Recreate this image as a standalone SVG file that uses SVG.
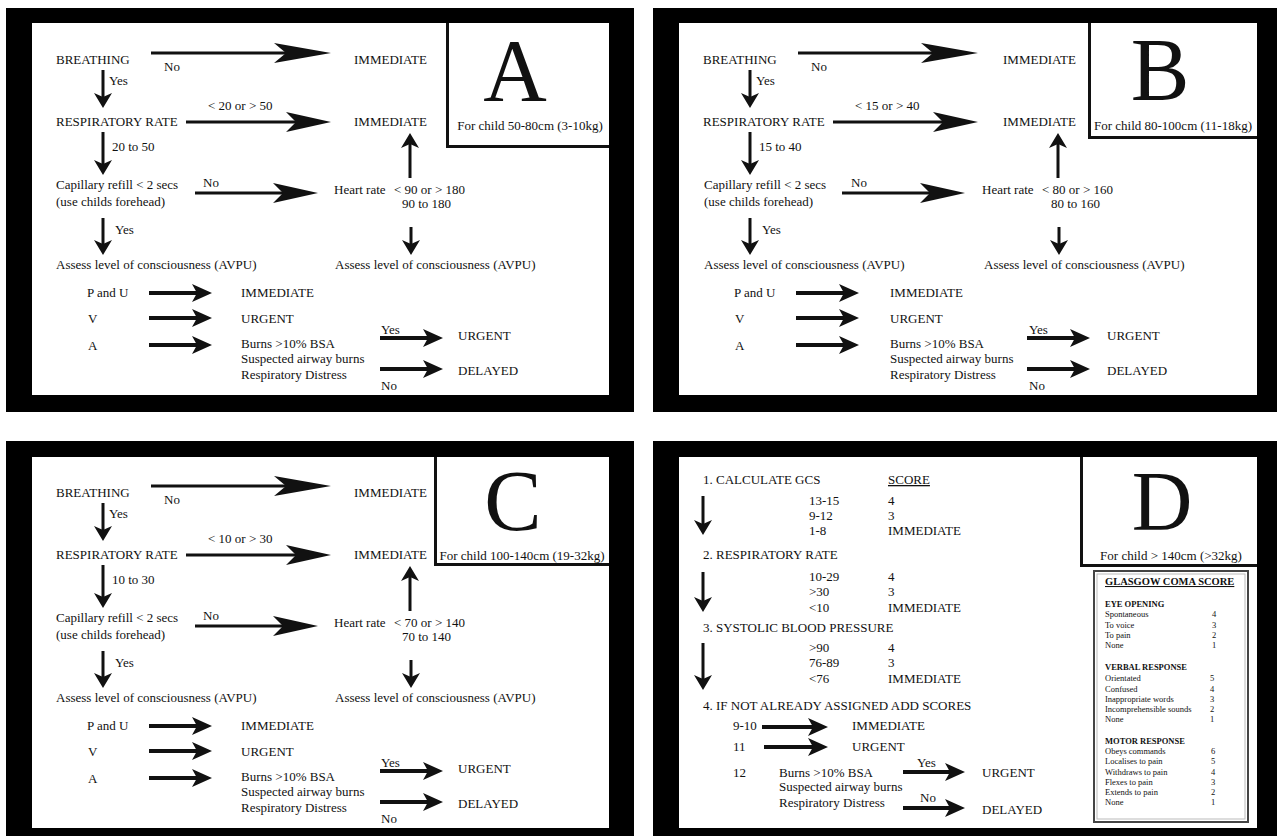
<svg xmlns="http://www.w3.org/2000/svg" width="1277" height="836" viewBox="0 0 1277 836">
<style>
text{font-family:"Liberation Serif","Times New Roman",serif;font-size:13px;fill:#111}
.big{font-size:88px;text-anchor:middle}
.mid{text-anchor:middle}
.u{text-decoration:underline}
.g{font-size:8.5px}
.gb{font-size:8.5px;font-weight:bold}
.gh{font-size:10.5px;font-weight:bold;text-decoration:underline}
.c3{stroke:#111;stroke-width:3;fill:none}
.c4{stroke:#111;stroke-width:4;fill:none}
.box{stroke:#111;stroke-width:3;fill:none}
.frame{fill:#000}
.inner{fill:#fff}
</style>
<defs>
<marker id="hL" markerUnits="userSpaceOnUse" orient="auto" overflow="visible" markerWidth="60" markerHeight="24" refX="0" refY="0"><path d="M45,0 L-12,-10 L0,0 L-12,10 Z" fill="#111"/></marker>
<marker id="hM" markerUnits="userSpaceOnUse" orient="auto" overflow="visible" markerWidth="50" markerHeight="24" refX="0" refY="0"><path d="M35,0 L-10,-10 L0,0 L-10,10 Z" fill="#111"/></marker>
<marker id="hT" markerUnits="userSpaceOnUse" orient="auto" overflow="visible" markerWidth="24" markerHeight="24" refX="0" refY="0"><path d="M15,0 L-5,-9 L0,0 L-5,9 Z" fill="#111"/></marker>
<marker id="hS" markerUnits="userSpaceOnUse" orient="auto" overflow="visible" markerWidth="20" markerHeight="20" refX="0" refY="0"><path d="M11,0 L-4,-9 L0,0 L-4,9 Z" fill="#111"/></marker>
</defs>
<rect width="1277" height="836" fill="#fff"/>

<!-- frames -->
<g id="frames">
<rect class="frame" x="6" y="8" width="628" height="404"/>
<rect class="inner" x="32" y="23" width="577" height="372"/>
<rect class="frame" x="653" y="8" width="624" height="404"/>
<rect class="inner" x="679" y="23" width="578" height="372"/>
<rect class="frame" x="6" y="441" width="628" height="400"/>
<rect class="inner" x="32" y="457" width="577" height="371"/>
<rect class="frame" x="653" y="441" width="624" height="400"/>
<rect class="inner" x="679" y="457" width="578" height="371"/>
</g>

<!-- PANEL A -->
<g id="panelA">
<g id="a-title"><path class="box" d="M447.5,23 V146.5 H609"/><text class="big" x="515" y="100">A</text><text class="mid" x="530" y="130">For child 50-80cm (3-10kg)</text></g>
<g id="a-connectors">
<line class="c3" x1="151" y1="53" x2="286" y2="53" marker-end="url(#hL)"/>
<line class="c3" x1="186" y1="122" x2="296" y2="122" marker-end="url(#hM)"/>
<line class="c3" x1="195" y1="193" x2="283" y2="193" marker-end="url(#hM)"/>
<line class="c3" x1="103" y1="70" x2="103" y2="97" marker-end="url(#hS)"/>
<line class="c3" x1="103" y1="132" x2="103" y2="164" marker-end="url(#hS)"/>
<line class="c3" x1="410" y1="178" x2="410" y2="144" marker-end="url(#hS)"/>
<line class="c3" x1="103" y1="218" x2="103" y2="244" marker-end="url(#hS)"/>
<line class="c3" x1="411" y1="227" x2="411" y2="244" marker-end="url(#hS)"/>
<line class="c4" x1="149" y1="293" x2="197" y2="293" marker-end="url(#hT)"/>
<line class="c4" x1="149" y1="318" x2="197" y2="318" marker-end="url(#hT)"/>
<line class="c4" x1="149" y1="345" x2="197" y2="345" marker-end="url(#hT)"/>
<line class="c4" x1="380" y1="338" x2="428" y2="338" marker-end="url(#hT)"/>
<line class="c4" x1="380" y1="369" x2="428" y2="369" marker-end="url(#hT)"/>
</g>
<g id="a-breathing"><text x="56" y="64">BREATHING</text></g>
<g id="a-lbl-no1"><text x="164" y="71">No</text></g>
<g id="a-imm1"><text x="354" y="64">IMMEDIATE</text></g>
<g id="a-lbl-yes1"><text x="109" y="85">Yes</text></g>
<g id="a-lbl-rr"><text x="208" y="110">&lt; 20 or &gt; 50</text></g>
<g id="a-resp"><text x="56" y="126">RESPIRATORY RATE</text></g>
<g id="a-imm2"><text x="354" y="126">IMMEDIATE</text></g>
<g id="a-lbl-range"><text x="112" y="151">20 to 50</text></g>
<g id="a-cap"><text x="56" y="189">Capillary refill &lt; 2 secs</text><text x="56" y="206">(use childs forehead)</text></g>
<g id="a-lbl-no2"><text x="203" y="187">No</text></g>
<g id="a-hr"><text x="334" y="194">Heart rate</text><text x="394" y="194">&lt; 90 or &gt; 180</text><text x="402" y="208">90 to 180</text></g>
<g id="a-lbl-yes2"><text x="115" y="234">Yes</text></g>
<g id="a-avpu1"><text x="56" y="269">Assess level of consciousness (AVPU)</text></g>
<g id="a-avpu2"><text x="335" y="269">Assess level of consciousness (AVPU)</text></g>
<g id="a-pu"><text x="87" y="297">P and U</text></g>
<g id="a-imm3"><text x="241" y="297">IMMEDIATE</text></g>
<g id="a-v"><text x="88" y="323">V</text></g>
<g id="a-urg1"><text x="241" y="323">URGENT</text></g>
<g id="a-a"><text x="88" y="350">A</text></g>
<g id="a-burns"><text x="241" y="348">Burns &gt;10% BSA</text><text x="241" y="363">Suspected airway burns</text><text x="241" y="379">Respiratory Distress</text></g>
<g id="a-lbl-yes3"><text x="381" y="334">Yes</text></g>
<g id="a-urg2"><text x="458" y="340">URGENT</text></g>
<g id="a-del"><text x="458" y="375">DELAYED</text></g>
<g id="a-lbl-no3"><text x="381" y="390">No</text></g>
</g>

<!-- PANEL B -->
<g id="panelB" transform="translate(647,0)">
<g id="b-title"><path class="box" d="M442.5,23 V137.5 H610"/><text class="big" x="513" y="99">B</text><text class="mid" x="526" y="130">For child 80-100cm (11-18kg)</text></g>
<g id="b-connectors">
<line class="c3" x1="151" y1="53" x2="286" y2="53" marker-end="url(#hL)"/>
<line class="c3" x1="186" y1="122" x2="296" y2="122" marker-end="url(#hM)"/>
<line class="c3" x1="195" y1="193" x2="283" y2="193" marker-end="url(#hM)"/>
<line class="c3" x1="103" y1="70" x2="103" y2="97" marker-end="url(#hS)"/>
<line class="c3" x1="103" y1="132" x2="103" y2="164" marker-end="url(#hS)"/>
<line class="c3" x1="411" y1="178" x2="411" y2="144" marker-end="url(#hS)"/>
<line class="c3" x1="103" y1="218" x2="103" y2="244" marker-end="url(#hS)"/>
<line class="c3" x1="412" y1="227" x2="412" y2="244" marker-end="url(#hS)"/>
<line class="c4" x1="149" y1="293" x2="197" y2="293" marker-end="url(#hT)"/>
<line class="c4" x1="149" y1="318" x2="197" y2="318" marker-end="url(#hT)"/>
<line class="c4" x1="149" y1="345" x2="197" y2="345" marker-end="url(#hT)"/>
<line class="c4" x1="380" y1="338" x2="428" y2="338" marker-end="url(#hT)"/>
<line class="c4" x1="380" y1="369" x2="428" y2="369" marker-end="url(#hT)"/>
</g>
<g id="b-breathing"><text x="56" y="64">BREATHING</text></g>
<g id="b-lbl-no1"><text x="164" y="71">No</text></g>
<g id="b-imm1"><text x="356" y="64">IMMEDIATE</text></g>
<g id="b-lbl-yes1"><text x="109" y="85">Yes</text></g>
<g id="b-lbl-rr"><text x="208" y="110">&lt; 15 or &gt; 40</text></g>
<g id="b-resp"><text x="56" y="126">RESPIRATORY RATE</text></g>
<g id="b-imm2"><text x="356" y="126">IMMEDIATE</text></g>
<g id="b-lbl-range"><text x="112" y="151">15 to 40</text></g>
<g id="b-cap"><text x="57" y="189">Capillary refill &lt; 2 secs</text><text x="57" y="206">(use childs forehead)</text></g>
<g id="b-lbl-no2"><text x="204" y="187">No</text></g>
<g id="b-hr"><text x="335" y="194">Heart rate</text><text x="395" y="194">&lt; 80 or &gt; 160</text><text x="404" y="208">80 to 160</text></g>
<g id="b-lbl-yes2"><text x="115" y="234">Yes</text></g>
<g id="b-avpu1"><text x="57" y="269">Assess level of consciousness (AVPU)</text></g>
<g id="b-avpu2"><text x="337" y="269">Assess level of consciousness (AVPU)</text></g>
<g id="b-pu"><text x="87" y="297">P and U</text></g>
<g id="b-imm3"><text x="243" y="297">IMMEDIATE</text></g>
<g id="b-v"><text x="88" y="323">V</text></g>
<g id="b-urg1"><text x="243" y="323">URGENT</text></g>
<g id="b-a"><text x="88" y="350">A</text></g>
<g id="b-burns"><text x="243" y="348">Burns &gt;10% BSA</text><text x="243" y="363">Suspected airway burns</text><text x="243" y="379">Respiratory Distress</text></g>
<g id="b-lbl-yes3"><text x="382" y="334">Yes</text></g>
<g id="b-urg2"><text x="460" y="340">URGENT</text></g>
<g id="b-del"><text x="460" y="375">DELAYED</text></g>
<g id="b-lbl-no3"><text x="382" y="390">No</text></g>
</g>

<!-- PANEL C -->
<g id="panelC" transform="translate(0,433)">
<g id="c-title"><path class="box" d="M435.5,24 V131.5 H609"/><text class="big" x="513" y="97" style="font-size:86px">C</text><text class="mid" x="522" y="127">For child 100-140cm (19-32kg)</text></g>
<g id="c-connectors">
<line class="c3" x1="151" y1="53" x2="286" y2="53" marker-end="url(#hL)"/>
<line class="c3" x1="186" y1="122" x2="296" y2="122" marker-end="url(#hM)"/>
<line class="c3" x1="195" y1="193" x2="283" y2="193" marker-end="url(#hM)"/>
<line class="c3" x1="103" y1="70" x2="103" y2="97" marker-end="url(#hS)"/>
<line class="c3" x1="103" y1="132" x2="103" y2="164" marker-end="url(#hS)"/>
<line class="c3" x1="410" y1="178" x2="410" y2="144" marker-end="url(#hS)"/>
<line class="c3" x1="103" y1="218" x2="103" y2="244" marker-end="url(#hS)"/>
<line class="c3" x1="411" y1="227" x2="411" y2="244" marker-end="url(#hS)"/>
<line class="c4" x1="149" y1="293" x2="197" y2="293" marker-end="url(#hT)"/>
<line class="c4" x1="149" y1="318" x2="197" y2="318" marker-end="url(#hT)"/>
<line class="c4" x1="149" y1="345" x2="197" y2="345" marker-end="url(#hT)"/>
<line class="c4" x1="380" y1="338" x2="428" y2="338" marker-end="url(#hT)"/>
<line class="c4" x1="380" y1="369" x2="428" y2="369" marker-end="url(#hT)"/>
</g>
<g id="c-breathing"><text x="56" y="64">BREATHING</text></g>
<g id="c-lbl-no1"><text x="164" y="71">No</text></g>
<g id="c-imm1"><text x="354" y="64">IMMEDIATE</text></g>
<g id="c-lbl-yes1"><text x="109" y="85">Yes</text></g>
<g id="c-lbl-rr"><text x="208" y="110">&lt; 10 or &gt; 30</text></g>
<g id="c-resp"><text x="56" y="126">RESPIRATORY RATE</text></g>
<g id="c-imm2"><text x="354" y="126">IMMEDIATE</text></g>
<g id="c-lbl-range"><text x="112" y="151">10 to 30</text></g>
<g id="c-cap"><text x="56" y="189">Capillary refill &lt; 2 secs</text><text x="56" y="206">(use childs forehead)</text></g>
<g id="c-lbl-no2"><text x="203" y="187">No</text></g>
<g id="c-hr"><text x="334" y="194">Heart rate</text><text x="394" y="194">&lt; 70 or &gt; 140</text><text x="402" y="208">70 to 140</text></g>
<g id="c-lbl-yes2"><text x="115" y="234">Yes</text></g>
<g id="c-avpu1"><text x="56" y="269">Assess level of consciousness (AVPU)</text></g>
<g id="c-avpu2"><text x="335" y="269">Assess level of consciousness (AVPU)</text></g>
<g id="c-pu"><text x="87" y="297">P and U</text></g>
<g id="c-imm3"><text x="241" y="297">IMMEDIATE</text></g>
<g id="c-v"><text x="88" y="323">V</text></g>
<g id="c-urg1"><text x="241" y="323">URGENT</text></g>
<g id="c-a"><text x="88" y="350">A</text></g>
<g id="c-burns"><text x="241" y="348">Burns &gt;10% BSA</text><text x="241" y="363">Suspected airway burns</text><text x="241" y="379">Respiratory Distress</text></g>
<g id="c-lbl-yes3"><text x="381" y="334">Yes</text></g>
<g id="c-urg2"><text x="458" y="340">URGENT</text></g>
<g id="c-del"><text x="458" y="375">DELAYED</text></g>
<g id="c-lbl-no3"><text x="381" y="390">No</text></g>
</g>

<!-- PANEL D -->
<g id="panelD">
<g id="d-title"><path class="box" d="M1081.5,457 V565.5 H1257"/><text class="big" x="1162" y="530" style="font-size:84px">D</text><text class="mid" x="1171" y="560">For child &gt; 140cm (&gt;32kg)</text></g>
<g id="d-connectors">
<line class="c3" x1="703" y1="496" x2="703" y2="524" marker-end="url(#hS)"/>
<line class="c3" x1="703" y1="572" x2="703" y2="601" marker-end="url(#hS)"/>
<line class="c3" x1="703" y1="643" x2="703" y2="679" marker-end="url(#hS)"/>
<line class="c4" x1="762" y1="727" x2="813" y2="727" marker-end="url(#hT)"/>
<line class="c4" x1="764" y1="747" x2="813" y2="747" marker-end="url(#hT)"/>
<line class="c4" x1="903" y1="772" x2="950" y2="772" marker-end="url(#hT)"/>
<line class="c4" x1="903" y1="808" x2="950" y2="808" marker-end="url(#hT)"/>
</g>
<g id="d-step1"><text x="703" y="484">1. CALCULATE GCS</text><text class="u" x="888" y="484">SCORE</text></g>
<g id="d-gcs-rows"><text x="809" y="505">13-15</text><text x="888" y="505">4</text><text x="809" y="520">9-12</text><text x="888" y="520">3</text><text x="809" y="535">1-8</text><text x="888" y="535">IMMEDIATE</text></g>
<g id="d-step2"><text x="703" y="559">2. RESPIRATORY RATE</text></g>
<g id="d-rr-rows"><text x="809" y="581">10-29</text><text x="888" y="581">4</text><text x="809" y="596">&gt;30</text><text x="888" y="596">3</text><text x="809" y="612">&lt;10</text><text x="888" y="612">IMMEDIATE</text></g>
<g id="d-step3"><text x="703" y="632">3. SYSTOLIC BLOOD PRESSURE</text></g>
<g id="d-bp-rows"><text x="809" y="652">&gt;90</text><text x="888" y="652">4</text><text x="809" y="667">76-89</text><text x="888" y="667">3</text><text x="809" y="683">&lt;76</text><text x="888" y="683">IMMEDIATE</text></g>
<g id="d-step4"><text x="703" y="710">4. IF NOT ALREADY ASSIGNED ADD SCORES</text></g>
<g id="d-s910"><text x="733" y="730">9-10</text></g>
<g id="d-imm"><text x="852" y="730">IMMEDIATE</text></g>
<g id="d-s11"><text x="733" y="751">11</text></g>
<g id="d-urg1"><text x="852" y="751">URGENT</text></g>
<g id="d-s12"><text x="733" y="777">12</text></g>
<g id="d-burns"><text x="779" y="777">Burns &gt;10% BSA</text><text x="779" y="791">Suspected airway burns</text><text x="779" y="807">Respiratory Distress</text></g>
<g id="d-lbl-yes"><text x="917" y="767">Yes</text></g>
<g id="d-urg2"><text x="982" y="777">URGENT</text></g>
<g id="d-lbl-no"><text x="920" y="802">No</text></g>
<g id="d-del"><text x="982" y="814">DELAYED</text></g>
<g id="d-gcs">
<rect x="1094" y="571" width="154" height="251" fill="#fff" stroke="#444" stroke-width="2"/>
<rect x="1097" y="574" width="148" height="245" fill="none" stroke="#bbb" stroke-width="1"/>
<text class="gh" x="1105" y="585">GLASGOW COMA SCORE</text>
<text class="gb" x="1105" y="607">EYE OPENING</text>
<text class="g" x="1105" y="617">Spontaneous</text><text class="g" x="1212" y="617">4</text>
<text class="g" x="1105" y="628">To voice</text><text class="g" x="1212" y="628">3</text>
<text class="g" x="1105" y="638">To pain</text><text class="g" x="1212" y="638">2</text>
<text class="g" x="1105" y="648">None</text><text class="g" x="1212" y="648">1</text>
<text class="gb" x="1105" y="670">VERBAL RESPONSE</text>
<text class="g" x="1105" y="681">Orientated</text><text class="g" x="1210" y="681">5</text>
<text class="g" x="1105" y="692">Confused</text><text class="g" x="1210" y="692">4</text>
<text class="g" x="1105" y="702">Inappropriate words</text><text class="g" x="1210" y="702">3</text>
<text class="g" x="1105" y="712">Incomprehensible sounds</text><text class="g" x="1210" y="712">2</text>
<text class="g" x="1105" y="722">None</text><text class="g" x="1210" y="722">1</text>
<text class="gb" x="1105" y="744">MOTOR RESPONSE</text>
<text class="g" x="1105" y="754">Obeys commands</text><text class="g" x="1211" y="754">6</text>
<text class="g" x="1105" y="764">Localises to pain</text><text class="g" x="1211" y="764">5</text>
<text class="g" x="1105" y="775">Withdraws to pain</text><text class="g" x="1211" y="775">4</text>
<text class="g" x="1105" y="785">Flexes to pain</text><text class="g" x="1211" y="785">3</text>
<text class="g" x="1105" y="795">Extends to pain</text><text class="g" x="1211" y="795">2</text>
<text class="g" x="1105" y="805">None</text><text class="g" x="1211" y="805">1</text>
</g>
</g>
</svg>
